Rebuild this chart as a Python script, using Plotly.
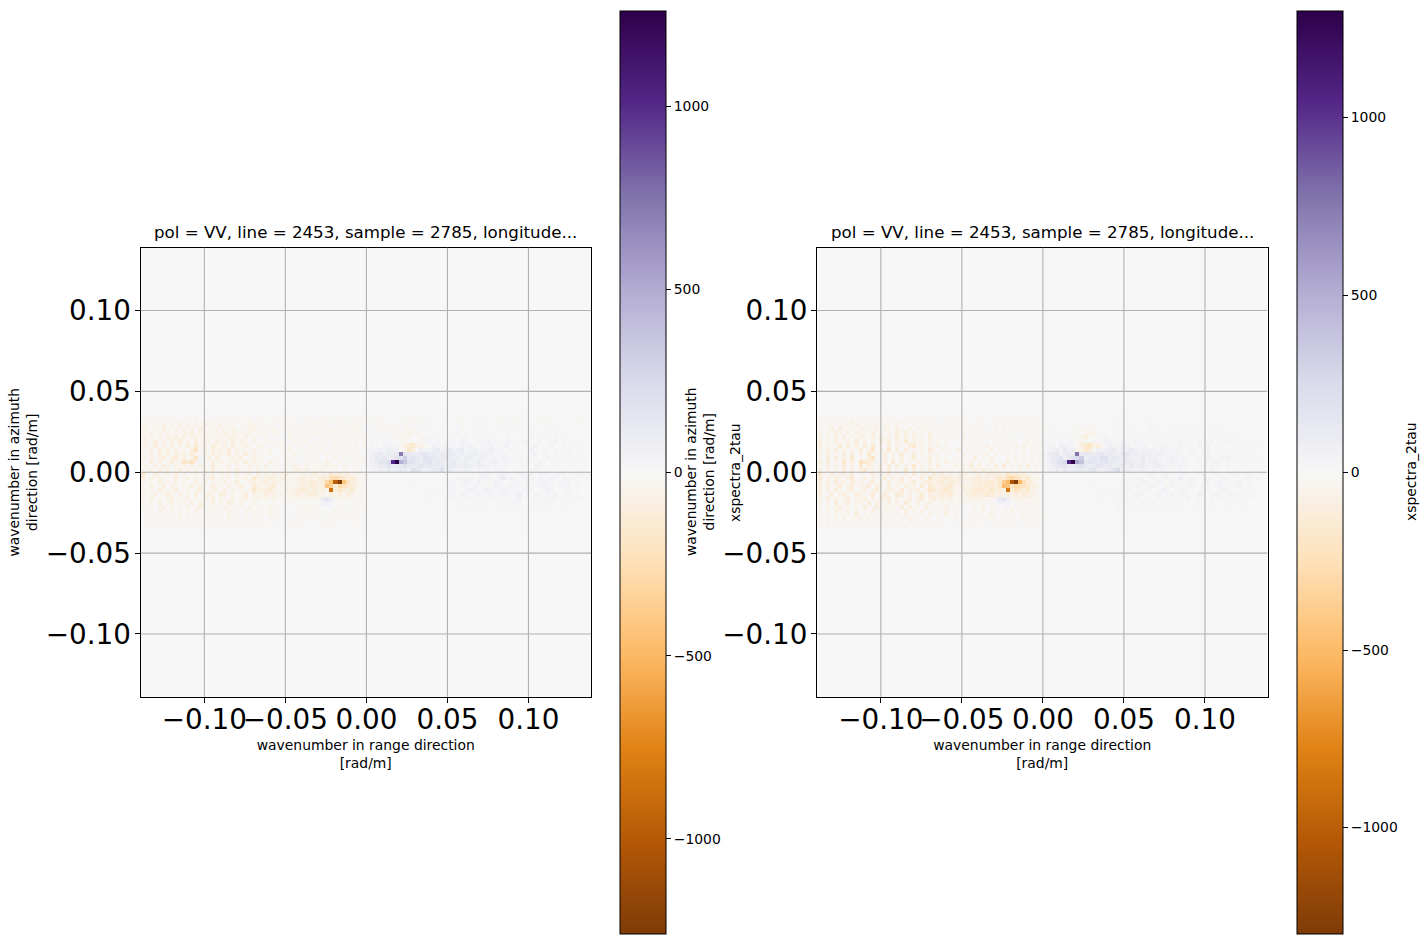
import numpy as np
import plotly.graph_objects as go

N_CELLS = 110
CELL = 0.002527
X_RANGE = [-0.1394, 0.1386]
Y_RANGE = [-0.139, 0.139]
TICKS = [-0.10, -0.05, 0.00, 0.05, 0.10]
CB_TICKS = [-1000, -500, 0, 500, 1000]
TITLE = "pol = VV, line = 2453, sample = 2785, longitude..."
X_LABEL = "wavenumber in range direction<br>[rad/m]"
Y_LABEL = "wavenumber in azimuth<br>direction [rad/m]"
VAR_LABEL = "xspectra_2tau"
LEFT_LIMIT = 1260
RIGHT_LIMIT = 1300
PUOR = ["#7f3b08", "#b35806", "#e08214", "#fdb863", "#fee0b6", "#f7f7f7",
        "#d8daeb", "#b2abd2", "#8073ac", "#542788", "#2d004b"]

# Pale cells: digits are orange strength, letters purple strength.
# Rows run top to bottom, segments start at columns -55, -26 and 0.
TOP_ROW = 13
SEGMENT_STARTS = [-55, -26, 0]
ORANGE_CODES = "0123456789"
ORANGE_LEVELS = [0, -8, -25, -45, -70, -95, -125, -155, -190, -230]
PURPLE_CODES = "abcdefghij"
PURPLE_LEVELS = [8, 25, 45, 70, 95, 125, 155, 190, 230, 270]

left_band = [
 "12110121012212011021112010112 1011a2101a1201012a11012a110 1a12a1011a2101a1a011a1b1a01a1a1011a12a1a012a1a1a1a012a1",
 "21213121321212131312122a21311 21a1312121a12312a1212a11312 a1221a112a11a21a11a1a12a1a1ba1a1a21a1a11a1a12a1a11a1a1",
 "32121413242313241324132112321 1231a2312a1231221a12a1231a1 1a21a11a121a1a12a1b1a1a2a1b1a1a1a2a1a1b1a1a1a2a1a1a1a1",
 "24131532413241523241324212341 2123121a2132a1213231a1213a1 a1a12121a321a1b1a1a1a1b1a1a1b1a1a1a1b1a1a1a1b1a1a1a1a",
 "31423241324352314231524132312 32123a1213a12321a1213a21212 a1b12a11234231a1a1b1a1b1a1a1b1a1a1b1a1a1b1a1a1b1a1a1a",
 "42314143524134252314243414231 13121a2312131a2131212a13121 1a1a1a12312a14b1a1b1a1a1b1a1a1b1a1b1a1a1b1a1a1b1a1a1a",
 "34152415362415243152435243141 2131a1213123a1213121a213121 abaabaa12212aabcabaabbacbaabbcabaabbaabcaabaabcabaabaa",
 "43251425142536241532415324213 31a21312a1213121a1312a12131 abbaccbb2467442acbbcbbacbcaabbcaabcabaabbcaabbaabaaaba",
 "23415351423158241534261423142 1231a2131a231213a121a213121 bcbdcecd2376adccdecdecdeccdcbcdbcbacbaabcaabbabaababaa",
 "31425241534263142534152415241 2131a12131a2131a21213121a13 cdefdeefegfeefgefdeefeddcdecdccbbcbabbaabcabbabaabaaaa",
 "42314514625148c24153124351341 31a1213121a312a121312a12131 cdfefdefgefgfefgfeefedecdecddcbcbcbabbacbaabcabaaabaaa",
 "31524135248794c31524132415242 2142a13121a1213142131a21211 bdegfghgfehgfegeefedefddecdecbcdbbcabbaabbcaabaabaaaab",
 "23142531423241421531241321423 14121a3142131a31423142131a1 bcdefgefeffefgffeefdefddedcddcbcbbcaabbaacbaabaaabaaaa",
 "32415241352413142513241532414 23212132343423232121212110 acbdcecdfedhgecdefhdecbcdcbcbcabcbaabaabbcaabaabaaaaba",
 "73152341524123142513241523415 24342343123245343456453221 1aa1a1a1a1a1a1a1aa1a1a1a1aabbcbacbbabcbbcabcbacbbabcbab",
 "51324213512413214513241324273 34543432345343565465656422 1a1a1a1a1aaba1a1aaa1aabcbcabcbbacfbcbabcbacbbcbacbbabab",
 "42315231423125141321413512453 45354322345456465757565421 a1a11a1a1a1b1a1a1aaabbabcbacbbacbbabcbacbabcbbabcbaba",
 "31412514312351421532141352164 34562342345465453564756432 1a1a1a1a1a1a1a1aa1aabbacbacbab2cbabcbbacbabcbbabbcaba",
 "42315213512413512431514231375 45643243456546453676545321 a1a1a1a1a1a1aa1aabbacbaabcbacdbabbcababcbaabcbaabbaa",
 "31241352142315134215413125143 35452323454465342535354321 1a1a1a1a1a1a1aaba1aabbacbabcabcabcbabdabacbabbcaabab",
 "21413125132413142513124135134 232321222323223fgd21332121 a1a1a1a1a1a1a1aa1aaabbaabbabaabbabaabcaabaabbcaabaaab",
 "31215134123151321413152141231 12121211212121bcdb12112121 1a1a1a1a1a1a1a1a1aabaabbaabaabaabbaabaaabbaabaaabaa",
 "21312413121412513121413121412 1131211a1213121a1c1b1a12111 a1a1a1a1a1a1a1a1a1a1a1a1b1a1a1a1a1b1a1a1a1a1a1a1a1a",
 "21214123131214121312141213121 2131211a121312a12131211a121 1a1a1a1a1a1a1a1a1a1a1a1a1a1a1a1a1a1a1a1a1a1a1a1a1a1",
 "11213112141211131112131112131 1131211a1211131a1211131211a a1a1a1a1a1a1a1a1a1a1a1a1a1a1a1a1a1a1a1a1a1a1a1a1a1a",
 "11121311121311121112131112111 21a1211121a1211121a1112a111 1a1a1a1a1a1a1a1a1a1a1a1a1a1a1a1a1a1a1a1a1a1a1a1a1a",
 "11211112111211112111111211121 1111a1112111a11121111a11111 a1a1a1a1a1a1a1a1a1a1a1a1a1a1a1a1a1a1a1a1a1a1a1a1a1a",
 "11111121111111211111121111111 1111a1111111a1111111a111111 1a1a1a1a1a1a1a1a1a1a1a1a1a1a1a1a1a1a1a1a1a1a1a1a1a",
]
right_band = [
 "11211121213111221211011211121 1111a1211121a1211a1111a1211 a1a1a1a1a1a1a1a1a1b1a1a1a1a1a1a1a1a1a1a1a1a1a1a1a1a",
 "21213121431312131312212a21312 a1212131a1211a1213121a1211a 1a1a1a1a1a1a1a1a1a1a1a1a1b1a1a1a1a1a1a1a1a1a1a1a1a1a",
 "12131213241312413213121312221 1213121a1231a1213121a13121a a1a1a1a1a1a1a1a1a1a1a1a1a1b1a1a1a1a1a1a1a1a1a1a1a1a",
 "31241532314241324315214132313 2121a1312121a13121a3121a121 1a1a1a1a2231a1a1a1a1b1a1a1b1a1a1a1b1a1a1a1b1a1a1a1a",
 "41324214142415231425152413141 21a131412a1213121a121a12131 a1b1a1a1a13341a1a1b1a1b1a1b1a1a1b1a1b1a1a1b1a1a1a1a",
 "31425251324124152315241532152 1213a1312131a13121a1a121312 1a1a1a1a13521a1b1a1a1b1a1b1a1b1a1a1b1a1b1a1a1a1a1a1",
 "42315124161413162514271324141 2131a1213121a1213121a131212 bbaabab12312babcbabbbacbbabbcabbabbaabcbabaabcabaabaaa",
 "51321615241517231614215723142 4121a1312131412a1213141213a abcaddcb2578452bdccdcbbcbcabbcbabcabbacbcaabaababaaaba",
 "31515241316148142715161314163 131a1412131a1412131a1213a12 bcdecfde3476bdcdefcedfdcdcdcbdcbcbabcaabcbabbaabaabaaa",
 "41423161514172315141612513142 3121a1413121413a1213141213a cefgdefegfgfefgefeefgeeddedcdcbcbcbabbabcabbaabaabaaaa",
 "31615142713158a15141413612151 412a13121513141a1213121a121 cdffgdfgghefgfgheffefdddedddcbcdcbbbabbacbabbcabaabaaa",
 "42513172519764c14171513142151 3141a121413a13121513121413 bdfgfhgghefhgfggffeefeddfcdedbcdcbcbabbabbcbabaabaaaab",
 "31514161417153131615142713141 51a141316141315161314151312 bcefggfefgfefggffeefdfdeedcdecbcbcbbaabbacbaabaaabaaaa",
 "41413261515724152613171514153 23231242343524232121312120 adcecfdefeeghedefgidecccdcbcbcbabcbaabaabcbaabaabaaaba",
 "73161451613135143614151614516 35342454234256454567563231 1a1a1a1aa1a1a1a1a1aa1a1aabcbabcabbcbabbcabcbabbcabcbab",
 "61415314612514316141514135184 45654533456454676576757432 a1a1a1aaba1a1a1aa1aaabbcbabcbbcbaebbcbabcbabcbbabbcaba",
 "51416341534136141513514613564 56465433456567576868676531 1a1a1a1a1a1b1a1a1aaabbabcbabcbacbbabcbabcabcbbabcabaa",
 "41513614513461531614153416175 45673453456576564675867542 a1a1a1a1a1a1a1aa1aabbabcabcbab3cbabcbabcbabcbabbcaba",
 "51416314613514613541614351486 56754354567657564787656431 1a1a1a1a1a1aa1aabbabcbaabcbabdbabcbababcbaabcbaabaaa",
 "41351463154136145316514136154 46563434565576453646465431 a1a1a1a1a1a1aaba1aabbabcbaabcabcabcbabdbabcbabbcabab",
 "31514136143514153614135146145 34342233343433cfgd23432231 1a1a1a1a1a1a1aa1aaabbabbabaabbabbabcaabaabbcaabaaaba",
 "41316145134161431514163151341 12231322323212bcdb21223121 a1a1a1a1a1a1a1a1aababbaabaabaabbabaaabbaabaabaaaba",
 "31413514131513614131514131512 1141311a1314131a1c1b1a13111 a1a1a1a1a1a1a1a1a1b1a1a1a1b1a1a1a1a1a1b1a1a1a1a1a1a",
 "31315134141315131413151314131 3141311a131413a13141311a131 1a1a1a1a1a1a1a1a1a1a1a1a1a1a1a1a1a1a1a1a1a1a1a1a1a1",
 "21314123151312141213141213141 2141311a1311141a1311141311a 1a1a1a1a1a1a1a1a1a1a1a1a1a1a1a1a1a1a1a1a1a1a1a1a1a1",
 "11213141213141213121314121311 21a1311131a1311131a1213a121 a1a1a1a1a1a1a1a1a1a1a1a1a1a1a1a1a1a1a1a1a1a1a1a1a1a",
 "21311213121311213121211312131 1111a1213111a1211111a111211 1a1a1a1a1a1a1a1a1a1a1a1a1a1a1a1a1a1a1a1a1a1a1a1a1a",
 "11211131121211311212131121211 1111a1111211a1111211a111111 a1a1a1a1a1a1a1a1a1a1a1a1a1a1a1a1a1a1a1a1a1a1a1a1a1a",
]

# Strongest cells, read one by one.
left_peak_col = [-8, -7, -9, -10, -6, -5, -10, -9, -8, -7, -6, -5, -9, -8, -7, -6, -4, -9, -8, -7, -6, -10, -9, -7,
                 6, 7, 8, 9, 8, 9, 8, 7, 6, 9, 8, 5, 4, 4, 11, 14, 15]
left_peak_row = [-3, -3, -3, -3, -3, -3, -4, -4, -4, -4, -4, -4, -5, -5, -5, -5, -5, -2, -2, -2, -2, -2, -1, -1,
                 2, 2, 2, 2, 4, 3, 3, 3, 3, 1, 1, 2, 2, 3, 2, 3, 2]
left_peak_val = [-980, -1240, -430, -300, -420, -200, -430, -350, -120, -280, -200, -160, -860, -100, -170, -120, -150,
                 -230, -280, -200, -160, -100, -170, -120,
                 1000, 1250, 480, 350, 720, 320, 180, 170, 120, 180, 120, 230, 160, 140, 170, 180, 170]
right_peak_col = [-8, -7, -9, -10, -6, -5, -11, -10, -9, -8, -7, -6, -5, -9, -8, -7, -6, -4, -9, -8, -7, -6, -10, -9, -7,
                  6, 7, 8, 9, 8, 9, 8, 7, 6, 9, 8, 5, 4, 4, 11, 14, 15]
right_peak_row = [-3, -3, -3, -3, -3, -3, -4, -4, -4, -4, -4, -4, -4, -5, -5, -5, -5, -5, -2, -2, -2, -2, -2, -1, -1,
                  2, 2, 2, 2, 4, 3, 3, 3, 3, 1, 1, 2, 2, 3, 2, 3, 2]
right_peak_val = [-1060, -1290, -500, -380, -520, -260, -180, -480, -420, -180, -300, -240, -200, -840, -140, -210, -170, -170,
                  -260, -310, -240, -190, -130, -190, -140,
                  1050, 1290, 520, 400, 780, 330, 240, 190, 130, 200, 140, 260, 180, 170, 190, 200, 180]


def build_z(band, peak_col, peak_row, peak_val):
    mid = N_CELLS // 2
    z = np.zeros((N_CELLS, N_CELLS))
    for i, line in enumerate(band):
        row = TOP_ROW - i
        for start, segment in zip(SEGMENT_STARTS, line.split()):
            for offset, ch in enumerate(segment):
                col = start + offset + mid
                if col < N_CELLS:
                    if ch in ORANGE_CODES:
                        z[row + mid, col] = ORANGE_LEVELS[ORANGE_CODES.index(ch)]
                    else:
                        z[row + mid, col] = PURPLE_LEVELS[PURPLE_CODES.index(ch)]
    for col, row, val in zip(peak_col, peak_row, peak_val):
        z[row + mid, col + mid] = val
    return z


centres = (np.arange(N_CELLS) - N_CELLS / 2 + 0.5) * CELL
W, H = 1428, 944
colorscale = [[i / 10, c] for i, c in enumerate(PUOR)]
fig = go.Figure()

panels = [
    ("x", "y", 140.5, 591, build_z(left_band, left_peak_col, left_peak_row, left_peak_val), LEFT_LIMIT, 620),
    ("x2", "y2", 817, 1267.5, build_z(right_band, right_peak_col, right_peak_row, right_peak_val), RIGHT_LIMIT, 1297),
]
ann = []
shapes = []
for xa, ya, x0, x1, z, lim, cbx in panels:
    fig.add_trace(go.Heatmap(
        x=centres, y=centres, z=z, xaxis=xa, yaxis=ya, zmin=-lim, zmax=lim,
        colorscale=colorscale, zsmooth=False,
        colorbar=dict(
            x=cbx / W, xanchor="left", xpad=0, ypad=0,
            y=(H - 11) / H, yanchor="top", lenmode="pixels", len=923,
            thicknessmode="pixels", thickness=46,
            outlinecolor="black", outlinewidth=1,
            tickmode="array", tickvals=CB_TICKS, ticks="outside", ticklen=5, tickwidth=1,
            tickcolor="black", tickfont=dict(size=13.9, color="black"),
            tickprefix="\u00a0",
        ),
    ))
    axis_common = dict(
        tickmode="array", tickvals=TICKS, tickformat=".2f", tickangle=0,
        ticks="outside", ticklen=5, tickwidth=1, tickcolor="black",
        tickfont=dict(size=27.8, color="black"), showgrid=False, zeroline=False,
        showline=True, mirror=True, linecolor="black", linewidth=1,
    )
    xname = "xaxis" if xa == "x" else "xaxis2"
    yname = "yaxis" if ya == "y" else "yaxis2"
    xtitle_font = dict(size=13.9, color="black")
    y_axis = dict(axis_common, range=Y_RANGE, domain=[(H - 697) / H, (H - 247.5) / H], anchor=xa,
                  ticklabelstandoff=-2)
    if xa == "x":
        y_axis["title"] = dict(text=Y_LABEL, standoff=4, font=xtitle_font)
    fig.update_layout({
        xname: dict(axis_common, range=X_RANGE, domain=[x0 / W, x1 / W], anchor=ya, ticklabelstandoff=-7,
                    title=dict(text=X_LABEL, standoff=4, font=xtitle_font)),
        yname: y_axis,
    })
    for t in TICKS:
        shapes.append(dict(type="line", xref=xa, yref=ya, x0=t, x1=t, y0=Y_RANGE[0], y1=Y_RANGE[1],
                           line=dict(color="#b0b0b0", width=1.1), layer="above"))
        shapes.append(dict(type="line", xref=xa, yref=ya, y0=t, y1=t, x0=X_RANGE[0], x1=X_RANGE[1],
                           line=dict(color="#b0b0b0", width=1.1), layer="above"))
    ann.append(dict(text=TITLE, xref="paper", yref="paper", x=(x0 + x1) / 2 / W, y=(H - 233) / H,
                    xanchor="center", yanchor="middle", showarrow=False,
                    font=dict(size=16.67, color="black")))

small = dict(size=13.9, color="black")
for label, px in [(Y_LABEL, 700), (VAR_LABEL, 735), (VAR_LABEL, 1411)]:
    ann.append(dict(text=label, xref="paper", yref="paper", x=px / W, y=(H - 472) / H, textangle=-90,
                    xanchor="center", yanchor="middle", showarrow=False, font=small))

fig.update_layout(
    width=W, height=H, autosize=False, margin=dict(l=0, r=0, t=0, b=0),
    paper_bgcolor="white", plot_bgcolor="white",
    font=dict(family="DejaVu Sans", color="black"),
    annotations=ann, shapes=shapes,
)
fig.write_html("out.html", post_script="document.body.style.margin='0';",
               config=dict(displayModeBar=False))
